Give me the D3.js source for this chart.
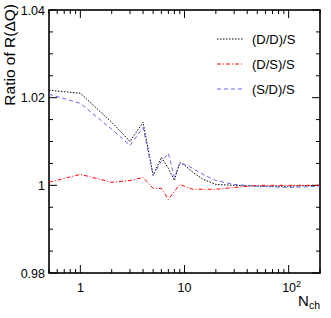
<!DOCTYPE html>
<html>
<head>
<meta charset="utf-8">
<script src="https://cdn.jsdelivr.net/npm/d3@7"></script>
<style>
  body { margin: 0; background: #fff; }
  text { font-family: "Liberation Sans", Arial, sans-serif; fill: #000; }
</style>
</head>
<body>
<div id="chart"></div>
<script>
const nch = [0.5, 1, 2, 3, 4, 5, 6, 7, 8, 9, 10, 12, 15, 20, 30, 50, 100, 200];
const ddS = [1.0217, 1.0210, 1.0144, 1.0100, 1.0144, 1.0023, 1.0064, 1.0039, 1.0011, 1.0052,
  1.0046, 1.0030, 1.0014, 1.0002, 1.0000, 0.9998, 0.9998, 1.0000];
const dsS = [1.0007, 1.0025, 1.0007, 1.0011, 1.0018, 0.9993, 0.9993, 0.9968, 0.9986, 1.0002,
  0.9998, 0.9991, 0.9991, 0.9991, 0.9995, 1.0000, 1.0000, 1.0000];
const sdS = [1.0208, 1.0187, 1.0128, 1.0091, 1.0132, 1.0023, 1.0055, 1.0073, 1.0018, 1.0050,
  1.0048, 1.0039, 1.0025, 1.0011, 1.0002, 0.9998, 0.9995, 0.9998];
const yTickLabels = ["0.98", "1", "1.02", "1.04"];

const series = [
  {name: "(D/D)/S", values: ddS, color: "#000", dash: "1.5,1.5"},
  {name: "(D/S)/S", values: dsS, color: "#ff0000", dash: "4,2,1,2"},
  {name: "(S/D)/S", values: sdS, color: "#6666ee", dash: "4,3"}
];

const width = 331, height = 318;
const mLeft = 49, mTop = 10, mRight = 320, mBottom = 273;

const svg = d3.select("#chart").append("svg")
  .attr("width", width).attr("height", height);

const x = d3.scaleLog().domain([0.5, 200]).range([mLeft, mRight]);
const y = d3.scaleLinear().domain([0.98, 1.04]).range([mBottom, mTop]);

// minor/major ticks, drawn inward on all four sides
const xMajor = [1, 10, 100];
const xMinor = x.ticks().filter(t => !xMajor.includes(t));
const yMinor = d3.range(0.98, 1.0401, 0.005);
const yMajor = yTickLabels.map(Number);

const ticks = svg.append("g").attr("stroke", "#000").attr("stroke-width", 1);
xMinor.forEach(t => {
  ticks.append("line").attr("x1", x(t)).attr("x2", x(t)).attr("y1", mBottom).attr("y2", mBottom - 4);
  ticks.append("line").attr("x1", x(t)).attr("x2", x(t)).attr("y1", mTop).attr("y2", mTop + 4);
});
xMajor.forEach(t => {
  ticks.append("line").attr("x1", x(t)).attr("x2", x(t)).attr("y1", mBottom).attr("y2", mBottom - 8);
  ticks.append("line").attr("x1", x(t)).attr("x2", x(t)).attr("y1", mTop).attr("y2", mTop + 8);
});
yMinor.forEach(t => {
  const big = yMajor.some(m => Math.abs(m - t) < 1e-6);
  const len = big ? 8 : 4;
  ticks.append("line").attr("x1", mLeft).attr("x2", mLeft + len).attr("y1", y(t)).attr("y2", y(t));
  ticks.append("line").attr("x1", mRight).attr("x2", mRight - len).attr("y1", y(t)).attr("y2", y(t));
});

// frame
svg.append("rect")
  .attr("x", mLeft).attr("y", mTop)
  .attr("width", mRight - mLeft).attr("height", mBottom - mTop)
  .attr("fill", "none").attr("stroke", "#000").attr("stroke-width", 1.6);

// y tick labels
svg.selectAll(".ylab").data(yTickLabels).enter().append("text")
  .attr("x", mLeft - 4).attr("y", d => y(+d) + 4.5)
  .attr("text-anchor", "end").style("font-size", "12.5px")
  .text(d => d);

// x tick labels
svg.append("text").attr("x", x(1)).attr("y", 292).attr("text-anchor", "middle")
  .style("font-size", "12.5px").text("1");
svg.append("text").attr("x", x(10)).attr("y", 292).attr("text-anchor", "middle")
  .style("font-size", "12.5px").text("10");
const t100 = svg.append("text").attr("x", x(100) + 3).attr("y", 292).attr("text-anchor", "middle")
  .style("font-size", "12.5px");
t100.append("tspan").text("10");
t100.append("tspan").attr("dy", -5).style("font-size", "9px").text("2");

// axis titles
const xt = svg.append("text").attr("x", mRight).attr("y", 306).attr("text-anchor", "end")
  .style("font-size", "15px");
xt.append("tspan").text("N");
xt.append("tspan").attr("dy", 3).style("font-size", "10.5px").text("ch");

svg.append("text")
  .attr("transform", `translate(15, 4) rotate(-90)`)
  .attr("text-anchor", "end").style("font-size", "15.5px")
  .text("Ratio of R(ΔQ)");

// curves
const line = d3.line()
  .x((d, i) => x(nch[i]))
  .y(d => y(d));

series.forEach(s => {
  svg.append("path")
    .attr("d", line(s.values))
    .attr("fill", "none")
    .attr("stroke", s.color)
    .attr("stroke-width", 1)
    .attr("stroke-dasharray", s.dash);
});

// legend
const legend = svg.append("g");
series.forEach((s, i) => {
  const ly = 39 + i * 25;
  legend.append("line").attr("x1", 217).attr("x2", 243).attr("y1", ly).attr("y2", ly)
    .attr("stroke", s.color).attr("stroke-width", 1).attr("stroke-dasharray", s.dash);
  legend.append("text").attr("x", 252).attr("y", ly + 4.5)
    .style("font-size", "13px").text(s.name);
});
</script>
</body>
</html>
